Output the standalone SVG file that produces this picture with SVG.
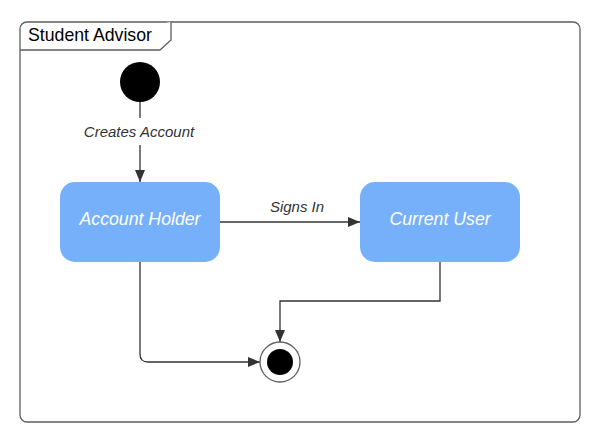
<svg xmlns="http://www.w3.org/2000/svg" width="603" height="440" viewBox="0 0 603 440">
<style>
.frame{fill:#fff;stroke:#5e5e5e;stroke-width:1.3}
.state{fill:#76b0fb;stroke:none}
.stext{font-family:"Liberation Sans",Arial,sans-serif;font-style:italic;font-size:17.7px;fill:#fff;text-anchor:middle}
.lbl{font-family:"Liberation Sans",Arial,sans-serif;font-style:italic;font-size:15px;fill:#333;text-anchor:middle}
.title{font-family:"Liberation Sans",Arial,sans-serif;font-size:17.7px;fill:#000}
.conn{fill:none;stroke:#333;stroke-width:1.3}
</style>
<defs>
<marker id="arrow" viewBox="0 0 12 10" refX="12" refY="5" markerWidth="12" markerHeight="10" markerUnits="userSpaceOnUse" orient="auto">
<path d="M0,0 L12,5 L0,10 Z" fill="#333"/>
</marker>
</defs>
<rect fill="#fff" width="603" height="440"/>
<g id="frame">
<rect class="frame" x="20" y="22" width="560" height="400" rx="7"/>
<path class="frame" d="M20,50 L160,50 L171,40 L171,22" fill="none"/>
<text class="title" x="28" y="41">Student Advisor</text>
</g>
<g id="connectors">
<path class="conn" d="M140,102 L140,118"/>
<path class="conn" d="M140,145 L140,182" marker-end="url(#arrow)"/>
<path class="conn" d="M220,222 L360,222" marker-end="url(#arrow)"/>
<path class="conn" d="M140,262 L140,354 Q140,362 148,362 L260,362" marker-end="url(#arrow)"/>
<path class="conn" d="M440,262 L440,301 L280,301 L280,342" marker-end="url(#arrow)"/>
<text class="lbl" x="139" y="137">Creates Account</text>
<text class="lbl" x="297" y="212">Signs In</text>
</g>
<g id="initial">
<circle cx="140" cy="82" r="20" fill="#000"/>
</g>
<g id="account-holder">
<rect class="state" x="60" y="182" width="160" height="80" rx="15"/>
<text class="stext" x="140" y="225">Account Holder</text>
</g>
<g id="current-user">
<rect class="state" x="360" y="182" width="160" height="80" rx="15"/>
<text class="stext" x="440" y="225">Current User</text>
</g>
<g id="final">
<circle cx="280" cy="362" r="20" fill="#fff" stroke="#5e5e5e" stroke-width="1.3"/>
<circle cx="280" cy="362" r="13" fill="#000"/>
</g>
</svg>
